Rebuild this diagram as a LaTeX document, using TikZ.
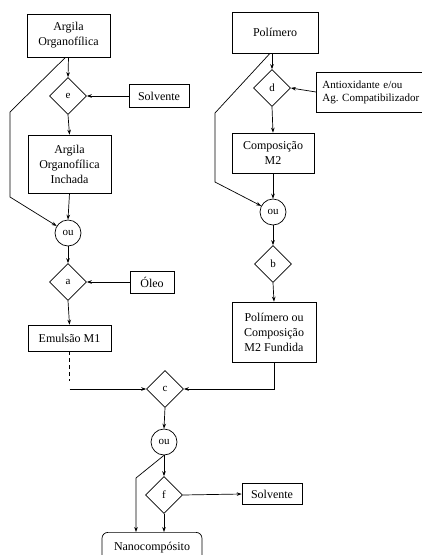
\documentclass[tikz,border=0pt]{standalone}
\usepackage{fontspec}
\setmainfont{Liberation Serif}
\usetikzlibrary{shapes.geometric,arrows.meta,calc}
\begin{document}
\begin{tikzpicture}[x=1pt,y=-1pt,
 box/.style={draw,rectangle,align=center,inner sep=0pt,font=\fontsize{12}{15}\selectfont},
 dia/.style={draw,diamond,shape aspect=1,inner sep=0pt,minimum size=37pt,font=\fontsize{11}{13}\selectfont},
 orc/.style={draw,circle,inner sep=0pt,minimum size=26pt,font=\fontsize{11}{13}\selectfont},
 arr/.style={-{Stealth[length=5pt,width=3.6pt]}},
 line width=0.7pt]
\useasboundingbox (0,0) rectangle (421,555);
% left column
\node[box,minimum width=83pt,minimum height=43pt] (A1) at (68.5,35.5) {Argila\\Organofílica};
\node[dia] (e) at (68,96) {e};
\node[box,minimum width=60pt,minimum height=23pt] (S1) at (159,96) {Solvente};
\node[box,minimum width=83pt,minimum height=58pt] (A2) at (69.5,164) {Argila\\Organofílica\\Inchada};
\node[orc] (ou1) at (68,233) {ou};
\node[dia] (a) at (68,282) {a};
\node[box,minimum width=44pt,minimum height=22pt] (O) at (152,282) {Óleo};
\node[box,minimum width=83pt,minimum height=26pt] (M1) at (69.5,338) {Emulsão M1};
% right column
\node[box,minimum width=86pt,minimum height=41pt] (P) at (275,32.5) {Polímero};
\node[dia] (d) at (272,88) {d};
\node[box,anchor=west,text width=125pt,align=left,inner xsep=6pt,minimum height=40pt,font=\fontsize{11}{13}\selectfont] (AX) at (316,92) {Antioxidante e/ou\\Ag.\ Compatibilizador};
\node[box,minimum width=82pt,minimum height=40pt] (CM) at (273,153) {Composição\\M2};
\node[orc] (ou3) at (273,212) {ou};
\node[dia] (b) at (273,264) {b};
\node[box,minimum width=84pt,minimum height=60pt] (PF) at (274,332) {Polímero ou\\Composição\\M2 Fundida};
% bottom
\node[dia] (c) at (165,389) {c};
\node[orc] (ou2) at (164,442) {ou};
\node[dia] (f) at (164,495) {f};
\node[box,minimum width=60pt,minimum height=21pt] (S2) at (272,494) {Solvente};
\node[box,rounded corners=6pt,anchor=north,minimum width=100pt,text height=13pt,text depth=25pt,inner ysep=5pt] (N) at (152,532) {Nanocompósito};
% connectors left
\draw[arr] (A1.south) -- (e.north);
\draw[arr] (S1.west) -- (e.east);
\draw[arr] (e.south) -- (A2.north);
\draw[arr] (A2.south) -- (ou1.north);
\coordinate (L1) at (10,112);
\coordinate (L2) at (10,197);
\draw[arr] ($(A1.south)+(-3,0)$) -- (L1) -- (L2) -- (ou1);
\draw[arr] (ou1.south) -- (a.north);
\draw[arr] (O.west) -- (a.east);
\draw[arr] (a.south) -- (M1.north);
\draw[dashed,dash pattern=on 4pt off 3pt] (M1.south) -- ($(M1.south |- c)+(0,-8)$);
\draw[arr] ($(M1.south |- c)$) -- (c.west);
% connectors right
\draw[arr] (P.south) ++(-3,0) -- (d.north);
\draw[arr] (AX.west) -- (d.east);
\draw[arr] (d.south) -- (CM.north);
\draw[arr] (CM.south) -- (ou3.north);
\coordinate (R1) at (215,113);
\coordinate (R2) at (215,182);
\draw[arr] ($(P.south)+(-5,0)$) -- (R1) -- (R2) -- (ou3);
\draw[arr] (ou3.south) -- (b.north);
\draw[arr] (b.south) -- (PF.north);
\draw[arr] (PF.south) -- (PF.south |- c) -- (c.east);
% bottom connectors
\draw[arr] (c.south) -- (ou2.north);
\draw[arr] (ou2.south) -- (f.north);
\draw[arr] (f.east) -- (S2.west);
\draw[arr] (f.south) -- (f.south |- N.north);
\coordinate (B1) at (136,478);
\draw[arr] (ou2.south) -- (B1) -- (B1 |- N.north);
\end{tikzpicture}
\end{document}
